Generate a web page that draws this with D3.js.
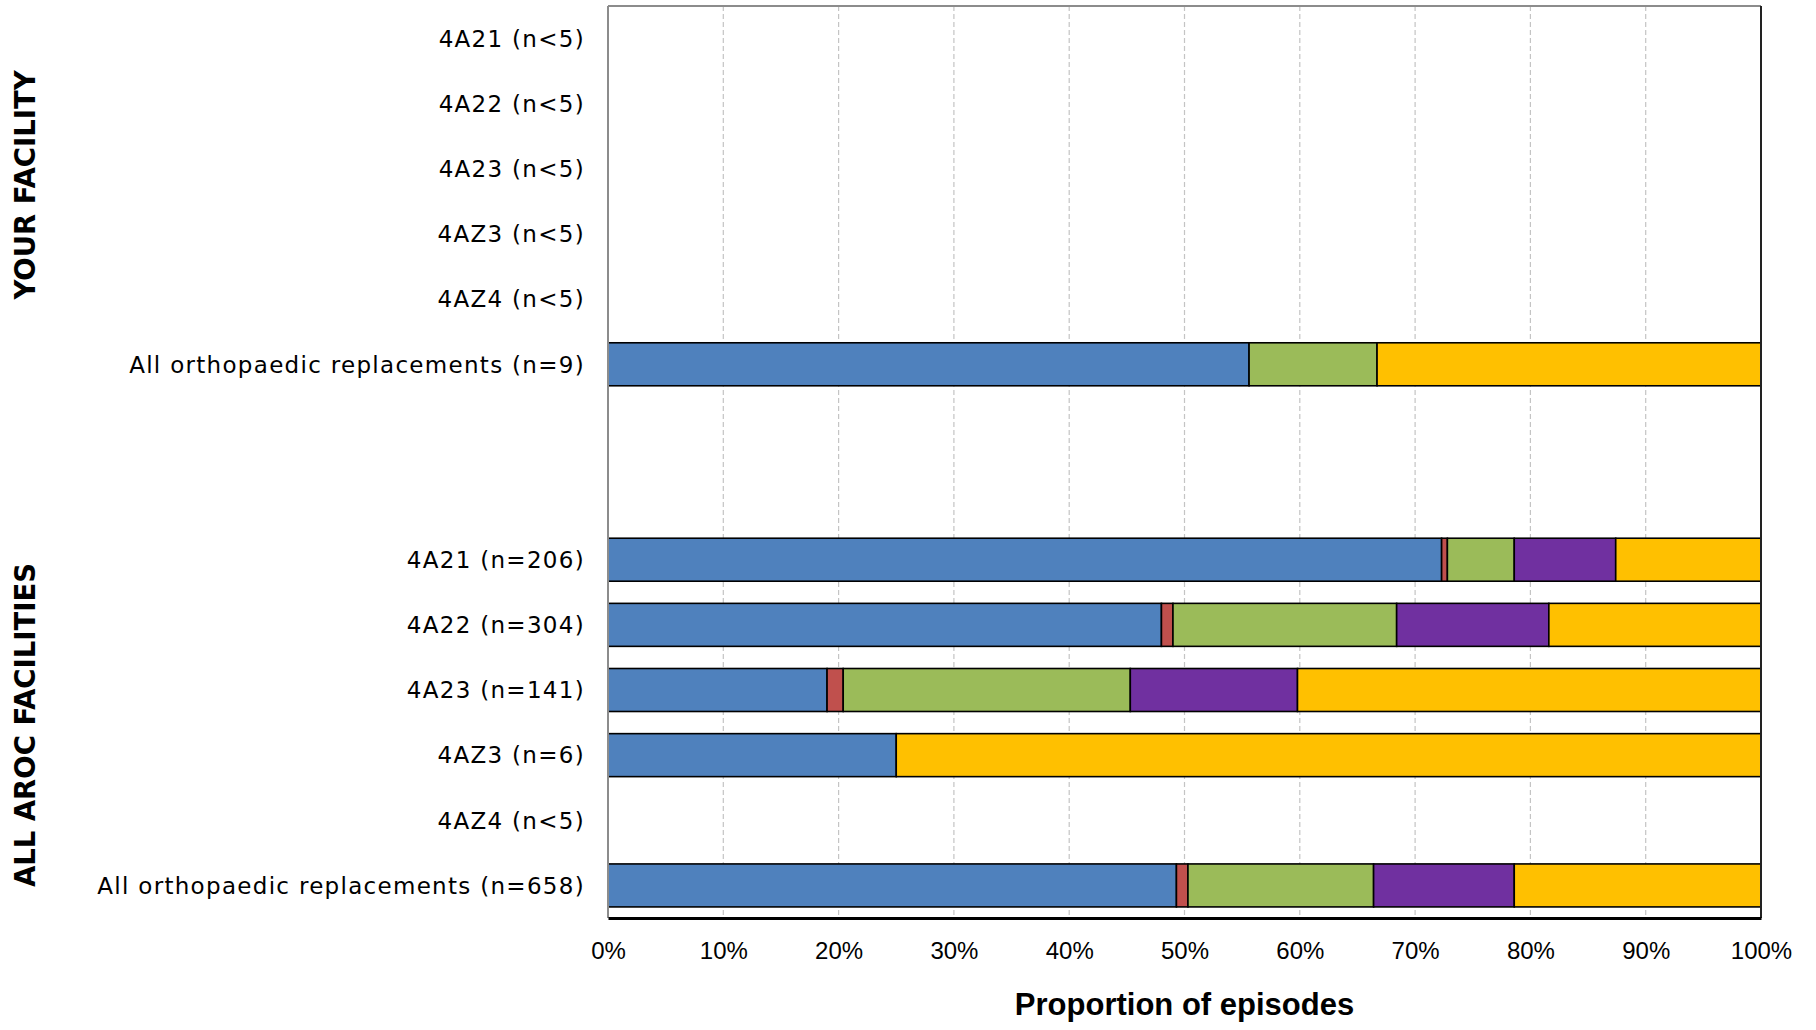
<!DOCTYPE html>
<html>
<head>
<meta charset="utf-8">
<script src="https://cdn.jsdelivr.net/npm/d3@7"></script>
<style>
  body { margin: 0; background: #fff; }
  .cat { font-family: "DejaVu Sans", sans-serif; font-size: 23px; letter-spacing: 1.3px; fill: #000; }
  .grp { font-family: "DejaVu Sans", sans-serif; font-weight: bold; font-size: 27.5px; fill: #000; }
  .tick-lbl { font-family: "Liberation Sans Narrow", "Liberation Sans", sans-serif; font-size: 24px; fill: #000; }
  .title { font-family: "Liberation Sans Narrow", "Liberation Sans", sans-serif; font-weight: bold; font-size: 31px; fill: #000; }
</style>
</head>
<body>
<div id="chart"></div>
<script>
// row labels, top to bottom (two blank spacer rows between the groups)
var rowLabels = [
  "4A21 (n<5)", "4A22 (n<5)", "4A23 (n<5)", "4AZ3 (n<5)", "4AZ4 (n<5)",
  "All orthopaedic replacements (n=9)",
  "", "",
  "4A21 (n=206)", "4A22 (n=304)", "4A23 (n=141)", "4AZ3 (n=6)", "4AZ4 (n<5)",
  "All orthopaedic replacements (n=658)"
];

// percentage of episodes per segment (null = not shown)
var seriesBlue   = [null, null, null, null, null, 55.6, null, null, 72.3, 48.0, 19.0, 25.0, null, 49.3];
var seriesRed    = [null, null, null, null, null, 0,    null, null, 0.5,  1.0,  1.4,  0,    null, 1.0];
var seriesGreen  = [null, null, null, null, null, 11.1, null, null, 5.8,  19.4, 24.9, 0,    null, 16.1];
var seriesPurple = [null, null, null, null, null, 0,    null, null, 8.8,  13.2, 14.5, 0,    null, 12.2];
var seriesYellow = [null, null, null, null, null, 33.3, null, null, 12.6, 18.4, 40.2, 75.0, null, 21.4];

var groupLabels = ["YOUR FACILITY", "ALL AROC FACILITIES"];
var groupCenters = [185, 725]; // y of label centre, in page px

var xTicks = [0, 10, 20, 30, 40, 50, 60, 70, 80, 90, 100];

var keys = ["blue", "red", "green", "purple", "yellow"];
var colors = { blue: "#4F81BD", red: "#C0504D", green: "#9BBB59", purple: "#7030A0", yellow: "#FFC000" };

var rows = rowLabels.map(function(label, i) {
  return {
    id: "r" + i,
    label: label,
    blue: seriesBlue[i] || 0,
    red: seriesRed[i] || 0,
    green: seriesGreen[i] || 0,
    purple: seriesPurple[i] || 0,
    yellow: seriesYellow[i] || 0,
    shown: seriesBlue[i] !== null
  };
});

var W = 1816, H = 1030;
var margin = { top: 6, right: 55, bottom: 112, left: 608 };
var width = W - margin.left - margin.right,
    height = H - margin.top - margin.bottom;

var svg = d3.select("#chart").append("svg")
  .attr("width", W)
  .attr("height", H);

var g = svg.append("g")
  .attr("transform", "translate(" + margin.left + "," + margin.top + ")");

var x = d3.scaleLinear().domain([0, 100]).range([0, width]);
var y = d3.scaleBand()
  .domain(rows.map(function(d) { return d.id; }))
  .range([0, height])
  .paddingInner(0.34)
  .paddingOuter(0.17);

// gridlines
g.append("g")
  .selectAll("line")
  .data(xTicks.slice(1, -1))
  .enter().append("line")
    .attr("x1", function(d) { return x(d); })
    .attr("x2", function(d) { return x(d); })
    .attr("y1", 0)
    .attr("y2", height)
    .attr("stroke", "#c4c4c4")
    .attr("stroke-width", 1.2)
    .attr("stroke-dasharray", "5,3");

// stacked bars
var stacked = d3.stack().keys(keys)(rows);

g.append("g")
  .selectAll("g")
  .data(stacked)
  .enter().append("g")
    .attr("fill", function(d) { return colors[d.key]; })
  .selectAll("rect")
  .data(function(d) { return d.filter(function(p) { return p.data.shown && p[1] - p[0] > 0; }); })
  .enter().append("rect")
    .attr("x", function(d) { return x(d[0]); })
    .attr("width", function(d) { return x(d[1]) - x(d[0]); })
    .attr("y", function(d) { return y(d.data.id); })
    .attr("height", y.bandwidth())
    .attr("stroke", "#000")
    .attr("stroke-width", 1.6);

// plot frame
g.append("line").attr("x1", 0).attr("x2", width).attr("y1", 0).attr("y2", 0)
  .attr("stroke", "#8c8c8c").attr("stroke-width", 2);
g.append("line").attr("x1", 0).attr("x2", 0).attr("y1", 0).attr("y2", height)
  .attr("stroke", "#8c8c8c").attr("stroke-width", 2);
g.append("line").attr("x1", width).attr("x2", width).attr("y1", 0).attr("y2", height)
  .attr("stroke", "#222").attr("stroke-width", 2);

// x axis
var xAxis = g.append("g")
  .attr("transform", "translate(0," + height + ")")
  .call(d3.axisBottom(x).tickValues(xTicks).tickSize(0).tickPadding(24)
    .tickFormat(function(d) { return d + "%"; }));
xAxis.select(".domain").attr("stroke", "#000").attr("stroke-width", 3);
xAxis.selectAll("text").attr("class", "tick-lbl").attr("font-family", null).attr("font-size", null);

// y labels
g.append("g")
  .selectAll("text")
  .data(rows.filter(function(d) { return d.label !== ""; }))
  .enter().append("text")
    .attr("class", "cat")
    .attr("x", -23)
    .attr("y", function(d) { return y(d.id) + y.bandwidth() / 2; })
    .attr("dy", "0.36em")
    .attr("text-anchor", "end")
    .text(function(d) { return d.label; });

// group labels
groupLabels.forEach(function(lbl, i) {
  svg.append("text")
    .attr("class", "grp")
    .attr("text-anchor", "middle")
    .attr("transform", "translate(35," + groupCenters[i] + ")rotate(-90)")
    .text(lbl);
});

// axis title
g.append("text")
  .attr("class", "title")
  .attr("text-anchor", "middle")
  .attr("x", width / 2)
  .attr("y", height + 97)
  .text("Proportion of episodes");
</script>
</body>
</html>
